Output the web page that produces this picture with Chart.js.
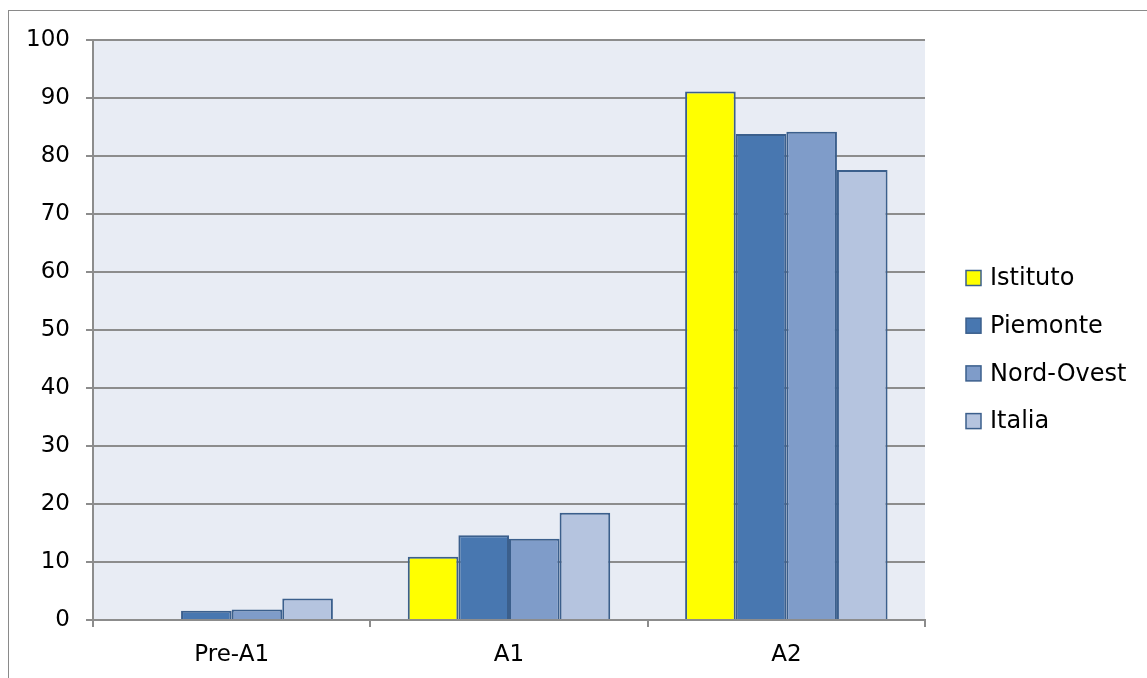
<!DOCTYPE html>
<html>
<head>
<meta charset="utf-8">
<script src="https://cdn.jsdelivr.net/npm/chart.js@4/dist/chart.umd.min.js"></script>
<style>
  body { margin: 0; background: #fff; }
  #wrap { position: relative; width: 1147px; height: 678px; overflow: hidden; }
  #frame { position: absolute; left: 8px; top: 10px; width: 1200px; height: 700px; border: 1px solid #8a8a8a; }
  #chart { position: absolute; left: 0; top: 0; }
</style>
</head>
<body>
<div id="wrap">
  <div id="frame"></div>
  <canvas id="chart" width="1147" height="678"></canvas>
</div>
<script>
const categories = ['Pre-A1', 'A1', 'A2'];
const istituto = [0, 10.9, 91.1];
const piemonte = [1.6, 14.6, 83.8];
const nordOvest = [1.8, 14.0, 84.2];
const italia = [3.7, 18.5, 77.6];
const seriesNames = ['Istituto', 'Piemonte', 'Nord-Ovest', 'Italia'];
const seriesColors = ['#ffff00', '#4877b0', '#7f9cc9', '#b5c4df'];
const borderBlue = '#3b5f8c';
const gridGray = '#8c8c8c';
const fontFamily = '"DejaVu Sans", sans-serif';

// plot background
const plotBackground = {
    id: 'plotBackground',
    beforeDraw(chart) {
        const a = chart.chartArea;
        const ctx = chart.ctx;
        ctx.save();
        ctx.fillStyle = '#e8ecf4';
        ctx.fillRect(a.left, a.top, a.right - a.left, a.bottom - a.top);
        ctx.restore();
    }
};

// legend on the right, drawn by hand
const sideLegend = {
    id: 'sideLegend',
    afterDraw(chart) {
        const ctx = chart.ctx;
        const x = 966, y0 = 278, step = 47.7, box = 15;
        ctx.save();
        ctx.font = '24px ' + fontFamily;
        ctx.textBaseline = 'middle';
        chart.data.datasets.forEach((ds, i) => {
            const y = y0 + i * step;
            ctx.fillStyle = ds.backgroundColor;
            ctx.fillRect(x, y - box / 2, box, box);
            ctx.strokeStyle = borderBlue;
            ctx.lineWidth = 1.5;
            ctx.strokeRect(x, y - box / 2, box, box);
            ctx.fillStyle = '#000';
            ctx.fillText(ds.label, x + 24, y + 1);
        });
        ctx.restore();
    }
};

const seriesData = [istituto, piemonte, nordOvest, italia];

new Chart(document.getElementById('chart').getContext('2d'), {
    type: 'bar',
    data: {
        labels: categories,
        datasets: seriesNames.map((name, i) => ({
            label: name,
            data: seriesData[i],
            backgroundColor: seriesColors[i],
            borderColor: borderBlue,
            borderWidth: 2,
            categoryPercentage: 0.73,
            barPercentage: 1
        }))
    },
    options: {
        responsive: false,
        animation: false,
        layout: { padding: { top: 40, right: 222, bottom: 0, left: 0 } },
        plugins: {
            legend: { display: false },
            tooltip: { enabled: false }
        },
        scales: {
            x: {
                afterFit: scale => { scale.height = 58; },
                grid: { drawOnChartArea: false, drawTicks: true, tickLength: 7, color: gridGray, lineWidth: 2 },
                border: { color: gridGray, width: 2 },
                ticks: { color: '#000', padding: 14, font: { family: fontFamily, size: 23 } }
            },
            y: {
                min: 0,
                max: 100,
                afterFit: scale => { scale.width = 93; },
                grid: { color: gridGray, lineWidth: 2, tickLength: 7 },
                border: { color: gridGray, width: 2 },
                ticks: { stepSize: 10, color: '#000', padding: 16, font: { family: fontFamily, size: 23 } }
            }
        }
    },
    plugins: [plotBackground, sideLegend]
});
</script>
</body>
</html>
